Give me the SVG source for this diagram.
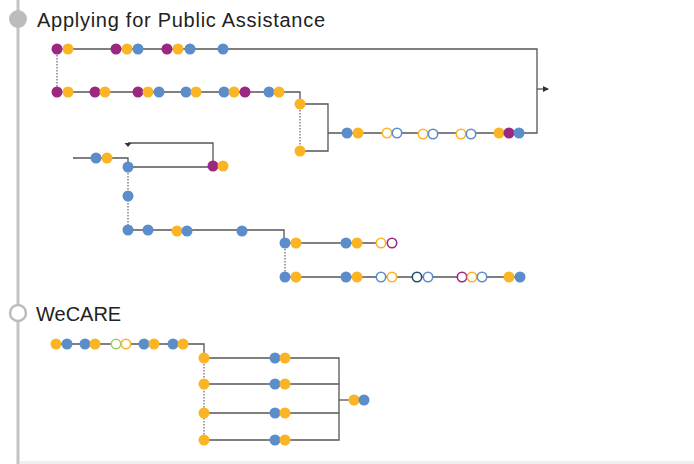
<svg xmlns="http://www.w3.org/2000/svg" width="694" height="464" viewBox="0 0 694 464">
<style>
.m{fill:#9c2780}.y{fill:#fbb424}.b{fill:#5b8dca}
.om{fill:#fff;stroke:#9c2780;stroke-width:1.6}
.oy{fill:#fff;stroke:#fbb424;stroke-width:1.6}
.ob{fill:#fff;stroke:#5b8dca;stroke-width:1.6}
.on{fill:#fff;stroke:#1f4e6b;stroke-width:1.6}
.og{fill:#fff;stroke:#a3cf6a;stroke-width:1.6}
.ln{fill:none;stroke:#555;stroke-width:1.3}
.dt{fill:none;stroke:#555;stroke-width:1.1;stroke-dasharray:1.5 1.5}
.t{font-family:"Liberation Sans",Arial,sans-serif;font-size:20px;fill:#222}
</style>
<defs>
<marker id="ar" viewBox="0 0 6 6" refX="5" refY="3" markerWidth="6" markerHeight="6" markerUnits="userSpaceOnUse" orient="auto">
<path d="M0,0 L6,3 L0,6 Z" fill="#333"/>
</marker>
</defs>
<rect x="20" y="461" width="674" height="3" fill="#efefef"/>
<line x1="18" y1="0" x2="18" y2="464" stroke="#c4c4c4" stroke-width="3"/>
<g id="sec-public">
<circle cx="18" cy="19" r="9" fill="#bcbcbc"/>
<text class="t" x="37" y="27" textLength="288" lengthAdjust="spacing">Applying for Public Assistance</text>
</g>
<g id="sec-wecare">
<circle cx="18" cy="313" r="8" fill="#fff" stroke="#bcbcbc" stroke-width="2.5"/>
<text class="t" x="36" y="321">WeCARE</text>
</g>
<g id="connectors">
<path class="ln" d="M57,49 H537 V133 H328"/>
<line class="ln" x1="537" y1="89" x2="548" y2="89" marker-end="url(#ar)"/>
<line class="dt" x1="57" y1="49" x2="57" y2="92"/>
<path class="ln" d="M57,92 H300 V104"/>
<path class="ln" d="M300,104 H328 V151 H300"/>
<line class="dt" x1="300" y1="104" x2="300" y2="151"/>
<path class="ln" d="M73,158 H128 V167 H213"/>
<path class="ln" d="M213,167 V143 H128"/>
<path d="M124.5,143 L131.5,143 L128,147 Z" fill="#333"/>
<line class="dt" x1="128" y1="167" x2="128" y2="230"/>
<path class="ln" d="M128,230 H284 V243"/>
<line class="ln" x1="285" y1="243" x2="381" y2="243"/>
<line class="dt" x1="285" y1="243" x2="285" y2="277"/>
<line class="ln" x1="285" y1="277" x2="520" y2="277"/>
<path class="ln" d="M56,344 H204 V358"/>
<path class="ln" d="M204,358 H339 V440 H204"/>
<line class="ln" x1="204" y1="384" x2="339" y2="384"/>
<line class="ln" x1="204" y1="413" x2="339" y2="413"/>
<line class="ln" x1="339" y1="400" x2="354" y2="400"/>
<line class="dt" x1="204" y1="358" x2="204" y2="440"/>
</g>
<g id="n1"><circle class="m" cx="57" cy="49" r="5.5"/><circle class="y" cx="68" cy="49" r="5.5"/></g>
<g id="n2"><circle class="m" cx="116" cy="49" r="5.5"/><circle class="y" cx="127" cy="49" r="5.5"/><circle class="b" cx="138" cy="49" r="5.5"/></g>
<g id="n3"><circle class="m" cx="167" cy="49" r="5.5"/><circle class="y" cx="178" cy="49" r="5.5"/><circle class="b" cx="190" cy="49" r="5.5"/></g>
<g id="n4"><circle class="b" cx="223" cy="49" r="5.5"/></g>
<g id="n5"><circle class="m" cx="57" cy="92" r="5.5"/><circle class="y" cx="68" cy="92" r="5.5"/></g>
<g id="n6"><circle class="m" cx="95" cy="92" r="5.5"/><circle class="y" cx="105" cy="92" r="5.5"/></g>
<g id="n7"><circle class="m" cx="138" cy="92" r="5.5"/><circle class="y" cx="148" cy="92" r="5.5"/><circle class="b" cx="159" cy="92" r="5.5"/></g>
<g id="n8"><circle class="b" cx="186" cy="92" r="5.5"/><circle class="y" cx="196" cy="92" r="5.5"/></g>
<g id="n9"><circle class="b" cx="224" cy="92" r="5.5"/><circle class="y" cx="234" cy="92" r="5.5"/><circle class="m" cx="245" cy="92" r="5.5"/></g>
<g id="n10"><circle class="b" cx="269" cy="92" r="5.5"/><circle class="y" cx="279" cy="92" r="5.5"/></g>
<g id="n11"><circle class="y" cx="300" cy="104" r="5.5"/></g>
<g id="n12"><circle class="y" cx="300" cy="151" r="5.5"/></g>
<g id="n13"><circle class="b" cx="347" cy="133" r="5.5"/><circle class="y" cx="358" cy="133" r="5.5"/></g>
<g id="n14"><circle class="oy" cx="387" cy="133" r="4.7"/><circle class="ob" cx="397" cy="133" r="4.7"/></g>
<g id="n15"><circle class="oy" cx="423" cy="134" r="4.7"/><circle class="ob" cx="433" cy="134" r="4.7"/></g>
<g id="n16"><circle class="oy" cx="461" cy="134" r="4.7"/><circle class="ob" cx="471" cy="134" r="4.7"/></g>
<g id="n17"><circle class="y" cx="499" cy="133" r="5.5"/><circle class="m" cx="509" cy="133" r="5.5"/><circle class="b" cx="519" cy="133" r="5.5"/></g>
<g id="n18"><circle class="b" cx="96" cy="158" r="5.5"/><circle class="y" cx="107" cy="158" r="5.5"/></g>
<g id="n19"><circle class="b" cx="128" cy="167" r="5.5"/></g>
<g id="n20"><circle class="m" cx="213" cy="166" r="5.5"/><circle class="y" cx="223" cy="166" r="5.5"/></g>
<g id="n21"><circle class="b" cx="128" cy="196" r="5.5"/></g>
<g id="n22"><circle class="b" cx="128" cy="230" r="5.5"/></g>
<g id="n23"><circle class="b" cx="148" cy="230" r="5.5"/></g>
<g id="n24"><circle class="y" cx="177" cy="231" r="5.5"/><circle class="b" cx="187" cy="231" r="5.5"/></g>
<g id="n25"><circle class="b" cx="242" cy="231" r="5.5"/></g>
<g id="n26"><circle class="b" cx="285" cy="243" r="5.5"/><circle class="y" cx="296" cy="243" r="5.5"/></g>
<g id="n27"><circle class="b" cx="346" cy="243" r="5.5"/><circle class="y" cx="357" cy="243" r="5.5"/></g>
<g id="n28"><circle class="oy" cx="381" cy="243" r="4.7"/><circle class="om" cx="392" cy="243" r="4.7"/></g>
<g id="n29"><circle class="b" cx="285" cy="277" r="5.5"/><circle class="y" cx="296" cy="277" r="5.5"/></g>
<g id="n30"><circle class="b" cx="346" cy="277" r="5.5"/><circle class="y" cx="357" cy="277" r="5.5"/></g>
<g id="n31"><circle class="ob" cx="381" cy="277" r="4.7"/><circle class="oy" cx="392" cy="277" r="4.7"/></g>
<g id="n32"><circle class="on" cx="417" cy="277" r="4.7"/><circle class="ob" cx="428" cy="277" r="4.7"/></g>
<g id="n33"><circle class="om" cx="462" cy="277" r="4.7"/><circle class="oy" cx="472" cy="277" r="4.7"/><circle class="ob" cx="482" cy="277" r="4.7"/></g>
<g id="n34"><circle class="y" cx="509" cy="277" r="5.5"/><circle class="b" cx="520" cy="277" r="5.5"/></g>
<g id="w1"><circle class="y" cx="56" cy="344" r="5.5"/><circle class="b" cx="67" cy="344" r="5.5"/></g>
<g id="w2"><circle class="b" cx="85" cy="344" r="5.5"/><circle class="y" cx="95" cy="344" r="5.5"/></g>
<g id="w3"><circle class="og" cx="116" cy="344" r="4.7"/><circle class="oy" cx="126" cy="344" r="4.7"/></g>
<g id="w4"><circle class="b" cx="144" cy="344" r="5.5"/><circle class="y" cx="154" cy="344" r="5.5"/></g>
<g id="w5"><circle class="b" cx="173" cy="344" r="5.5"/><circle class="y" cx="183" cy="344" r="5.5"/></g>
<g id="w6"><circle class="y" cx="204" cy="358" r="5.5"/></g>
<g id="w7"><circle class="y" cx="204" cy="384" r="5.5"/></g>
<g id="w8"><circle class="y" cx="204" cy="413" r="5.5"/></g>
<g id="w9"><circle class="y" cx="204" cy="440" r="5.5"/></g>
<g id="w10"><circle class="b" cx="275" cy="358" r="5.5"/><circle class="y" cx="285" cy="358" r="5.5"/></g>
<g id="w11"><circle class="b" cx="275" cy="384" r="5.5"/><circle class="y" cx="285" cy="384" r="5.5"/></g>
<g id="w12"><circle class="b" cx="275" cy="413" r="5.5"/><circle class="y" cx="285" cy="413" r="5.5"/></g>
<g id="w13"><circle class="b" cx="275" cy="440" r="5.5"/><circle class="y" cx="285" cy="440" r="5.5"/></g>
<g id="w14"><circle class="y" cx="354" cy="400" r="5.5"/><circle class="b" cx="364" cy="400" r="5.5"/></g>
</svg>
